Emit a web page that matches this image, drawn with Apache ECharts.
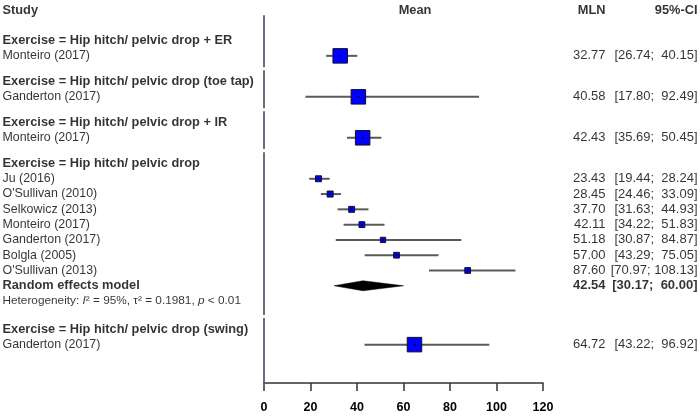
<!DOCTYPE html>
<html>
<head>
<meta charset="utf-8">
<script src="https://cdn.jsdelivr.net/npm/echarts@6/dist/echarts.min.js"></script>
<style>
  html, body { margin: 0; padding: 0; background: #fff; }
  #chart { width: 700px; height: 417px; }
</style>
</head>
<body>
<div id="chart"></div>
<script>
const groupLabels = [
  "Exercise = Hip hitch/ pelvic drop + ER",
  "Exercise = Hip hitch/ pelvic drop (toe tap)",
  "Exercise = Hip hitch/ pelvic drop + IR",
  "Exercise = Hip hitch/ pelvic drop",
  "Exercise = Hip hitch/ pelvic drop (swing)",
];
const studyNames = [
  "Monteiro (2017)",
  "Ganderton (2017)",
  "Monteiro (2017)",
  "Ju (2016)",
  "O'Sullivan (2010)",
  "Selkowicz (2013)",
  "Monteiro (2017)",
  "Ganderton (2017)",
  "Bolgla (2005)",
  "O'Sullivan (2013)",
  "Ganderton (2017)",
];
const studyGroup = [0, 1, 2, 3, 3, 3, 3, 3, 3, 3, 4];
const studyMean = [32.77, 40.58, 42.43, 23.43, 28.45, 37.70, 42.11, 51.18, 57.00, 87.60, 64.72];
const studyLower = [26.74, 17.80, 35.69, 19.44, 24.46, 31.63, 34.22, 30.87, 43.29, 70.97, 43.22];
const studyUpper = [40.15, 92.49, 50.45, 28.24, 33.09, 44.93, 51.83, 84.87, 75.05, 108.13, 96.92];
const studyWeight = [100, 100, 100, 15, 15.5, 15, 14.5, 12, 14, 14, 100];

const pooledGroup = 3;
const pooledLabel = "Random effects model";
const pooledMean = 42.54;
const pooledLower = 30.17;
const pooledUpper = 60.00;
const hetI2 = "95%";
const hetTau2 = "0.1981";
const hetP = "< 0.01";

const xTicks = { min: 0, max: 120, interval: 20 };
const headers = { study: "Study", mean: "Mean", est: "MLN", ci: "95%-CI" };

// ---- row layout (in row units, top = 0) ----
const FONT = "'Liberation Sans', Arial, sans-serif";
const GAP = 0.68;
const Y_MAX = 24.4;

const textRows = [];
const studyPos = [];
const groupSpans = [];
let pos = 2;
let pooledPos = 0;
groupLabels.forEach((g, gi) => {
  const start = pos;
  textRows.push({ pos, text: g, bold: true });
  pos += 1;
  studyNames.forEach((name, i) => {
    if (studyGroup[i] !== gi) return;
    studyPos[i] = pos;
    textRows.push({ pos, text: name, bold: false });
    pos += 1;
  });
  if (gi === pooledGroup) {
    pooledPos = pos;
    textRows.push({ pos, text: pooledLabel, bold: true });
    pos += 1;
    textRows.push({ pos, het: true });
    pos += 1;
    pos += 0.17;
  }
  groupSpans.push([start, pos - 1]);
  pos += GAP;
});

// reference line pieces, broken between groups
const refSegments = groupSpans.map((s, i) => {
  const top = i === 0 ? 0.35 : (groupSpans[i - 1][1] + s[0]) / 2 + 0.1;
  const bottom = i === groupSpans.length - 1 ? Y_MAX : (s[1] + groupSpans[i + 1][0]) / 2 - 0.1;
  return [top, bottom];
});

const fmt = (v) => v.toFixed(2);
const ciText = (l, u) => "[" + fmt(l) + "; " + fmt(u).padStart(6, " ") + "]";

const PX_EST = 606;
const PX_CI = 698;
const LEFT_REG = 12.4;
const LEFT_BOLD = 12.8;
const RIGHT_SIZE = 13;

const textData = [];
function addText(x, y, text, opts) {
  textData.push({
    value: [x, y],
    label: Object.assign({ formatter: text }, opts),
  });
}
addText(0, 0, headers.study, { position: "right", distance: 2, fontWeight: "bold", fontSize: LEFT_BOLD });
addText(415, 0, headers.mean, { position: "inside", fontWeight: "bold", fontSize: LEFT_BOLD });
addText(PX_EST, 0, headers.est, { position: "left", distance: 0, fontWeight: "bold", fontSize: LEFT_BOLD });
addText(PX_CI, 0, headers.ci, { position: "left", distance: 0, fontWeight: "bold", fontSize: LEFT_BOLD });
textRows.forEach((r) => {
  if (r.het) {
    addText(0, r.pos,
      "Heterogeneity: {it|I}² = " + hetI2 + ", τ² = " + hetTau2 + ", {it|p} " + hetP,
      { position: "right", distance: 2, fontSize: 11.8,
        rich: { it: { fontStyle: "italic", fontSize: 11.8, fontFamily: FONT, color: "#000" } } });
  } else {
    addText(0, r.pos, r.text, {
      position: "right", distance: 2,
      fontWeight: r.bold ? "bold" : "normal",
      fontSize: r.bold ? LEFT_BOLD : LEFT_REG,
    });
  }
});
studyMean.forEach((m, i) => {
  addText(PX_EST, studyPos[i], fmt(m), { position: "left", distance: 0 });
  addText(PX_CI, studyPos[i], ciText(studyLower[i], studyUpper[i]), { position: "left", distance: 0 });
});
addText(PX_EST, pooledPos, fmt(pooledMean), { position: "left", distance: 0, fontWeight: "bold" });
addText(PX_CI, pooledPos, ciText(pooledLower, pooledUpper), { position: "left", distance: 0, fontWeight: "bold" });

const chart = echarts.init(document.getElementById("chart"), null, { renderer: "canvas" });

const hiddenY = { type: "value", inverse: true, min: 0, max: Y_MAX, show: false };

chart.setOption({
  animation: false,
  backgroundColor: "#fff",
  textStyle: { fontFamily: FONT },
  grid: [
    { left: 0, right: 0, top: 10, bottom: 34 },
    { left: 264, width: 279, top: 10, bottom: 34 },
  ],
  xAxis: [
    { gridIndex: 0, type: "value", min: 0, max: 700, show: false },
    {
      gridIndex: 1, type: "value", position: "bottom",
      min: xTicks.min, max: xTicks.max, interval: xTicks.interval,
      axisLine: { show: true, onZero: false, lineStyle: { color: "#333", width: 1.5 } },
      axisTick: { show: true, length: 8, lineStyle: { color: "#333", width: 1.5 } },
      axisLabel: { color: "#000", fontSize: 12.5, fontWeight: "bold", margin: 18, fontFamily: FONT },
      splitLine: { show: false },
    },
  ],
  yAxis: [
    Object.assign({ gridIndex: 0 }, hiddenY),
    Object.assign({ gridIndex: 1 }, hiddenY),
  ],
  series: [
    ...refSegments.map((s) => ({
      type: "line",
      xAxisIndex: 1, yAxisIndex: 1,
      data: [[0, s[0]], [0, s[1]]],
      symbol: "none",
      silent: true,
      lineStyle: { color: "#6e6e7e", width: 2 },
      z: 1,
    })),
    {
      // CI whiskers
      type: "custom",
      xAxisIndex: 1, yAxisIndex: 1,
      silent: true,
      data: studyMean.map((m, i) => [studyLower[i], studyUpper[i], studyPos[i]]),
      encode: { x: [0, 1], y: 2 },
      renderItem: (params, api) => {
        const a = api.coord([api.value(0), api.value(2)]);
        const b = api.coord([api.value(1), api.value(2)]);
        return {
          type: "line",
          shape: { x1: a[0], y1: a[1], x2: b[0], y2: b[1] },
          style: { stroke: "#5a5a5a", lineWidth: 2 },
        };
      },
      z: 2,
    },
    {
      type: "scatter",
      xAxisIndex: 1, yAxisIndex: 1,
      silent: true,
      symbol: "rect",
      data: studyMean.map((m, i) => [m, studyPos[i], studyWeight[i]]),
      symbolSize: (v) => 14 * Math.sqrt(v[2] / 100) + 0.5,
      itemStyle: { color: "#0000ff", borderColor: "#10102a", borderWidth: 1, opacity: 1 },
      z: 3,
    },
    {
      type: "scatter",
      xAxisIndex: 1, yAxisIndex: 1,
      silent: true,
      symbol: "circle",
      symbolSize: 2,
      data: studyMean.map((m, i) => [m, studyPos[i]]),
      itemStyle: { color: "#000", opacity: 1 },
      z: 4,
    },
    {
      // pooled diamond
      type: "custom",
      xAxisIndex: 1, yAxisIndex: 1,
      silent: true,
      data: [[pooledLower, pooledMean, pooledUpper, pooledPos]],
      encode: { x: [0, 2], y: 3 },
      renderItem: (params, api) => {
        const y = api.value(3);
        const l = api.coord([api.value(0), y]);
        const m = api.coord([api.value(1), y]);
        const u = api.coord([api.value(2), y]);
        const h = 5;
        return {
          type: "polygon",
          shape: { points: [[l[0], l[1]], [m[0], m[1] - h], [u[0], u[1]], [m[0], m[1] + h]] },
          style: { fill: "#000", stroke: "#000", lineWidth: 0.5 },
        };
      },
      z: 3,
    },
    {
      type: "scatter",
      xAxisIndex: 0, yAxisIndex: 0,
      silent: true,
      symbolSize: 1,
      itemStyle: { color: "rgba(0,0,0,0)" },
      data: textData,
      label: { show: true, color: "#000", fontSize: RIGHT_SIZE, fontFamily: FONT },
      z: 5,
    },
  ],
});
</script>
</body>
</html>
